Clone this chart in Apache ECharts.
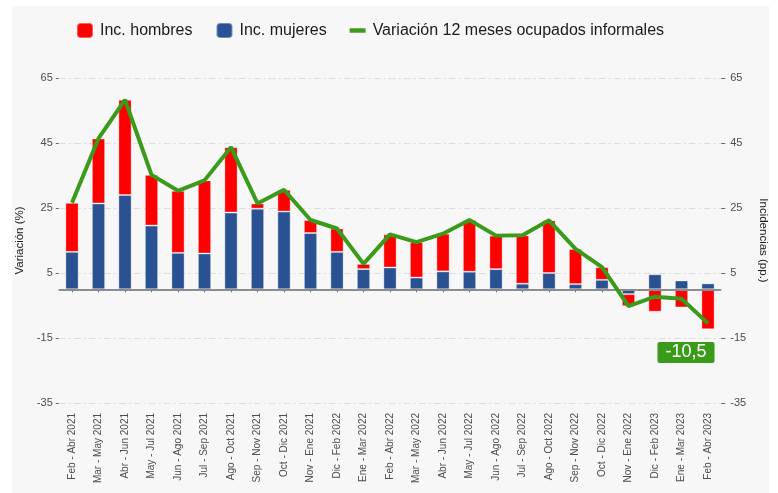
<!DOCTYPE html>
<html>
<head>
<meta charset="utf-8">
<script src="https://cdn.jsdelivr.net/npm/echarts@6/dist/echarts.min.js"></script>
<style>
html,body{margin:0;padding:0;background:#ffffff;width:778px;height:493px;overflow:hidden;}
#chart{position:absolute;left:12px;top:6px;width:757px;height:487px;background:#f7f7f7;}
</style>
</head>
<body>
<div id="chart"></div>
<script>
const categories = ['Feb - Abr 2021','Mar - May 2021','Abr - Jun 2021','May - Jul 2021','Jun - Ago 2021','Jul - Sep 2021','Ago - Oct 2021','Sep - Nov 2021','Oct - Dic 2021','Nov - Ene 2021','Dic - Feb 2022','Ene - Mar 2022','Feb - Abr 2022','Mar - May 2022','Abr - Jun 2022','May - Jul 2022','Jun - Ago 2022','Jul - Sep 2022','Ago - Oct 2022','Sep - Nov 2022','Oct - Dic 2022','Nov - Ene 2022','Dic - Feb 2023','Ene - Mar 2023','Feb - Abr 2023'];
const incMujeres = [11.5, 26.4, 29.0, 19.6, 11.2, 11.0, 23.6, 24.8, 23.9, 17.3, 11.5, 6.2, 6.7, 3.6, 5.5, 5.4, 6.2, 1.7, 5.0, 1.6, 2.9, -1.5, 4.6, 2.7, 1.8];
const incHombres = [15.1, 20.0, 29.3, 15.6, 19.1, 22.5, 20.1, 1.6, 6.7, 4.0, 7.2, 1.6, 10.2, 10.9, 11.6, 15.9, 10.3, 14.9, 16.2, 10.8, 3.9, -3.7, -6.9, -5.6, -12.3];
const variacion = [26.6, 46.4, 58.3, 35.2, 30.3, 33.5, 43.7, 26.4, 30.6, 21.3, 18.7, 7.8, 16.9, 14.5, 17.1, 21.3, 16.5, 16.6, 21.2, 12.4, 6.8, -5.2, -2.3, -2.9, -10.5];
const yTicks = {min: -35, max: 65, interval: 20};

const lastIdx = variacion.length - 1;

const axisTxt = {color: '#4d4d4d', fontSize: 11, fontFamily: 'Liberation Sans, Arial, sans-serif'};
const gridLine = {show: true, lineStyle: {color: '#dedede', width: 1, type: [7, 3, 2, 3]}};

const chart = echarts.init(document.getElementById('chart'), null, {renderer: 'canvas'});
chart.setOption({
  animation: false,
  backgroundColor: '#f7f7f7',
  textStyle: {fontFamily: 'Liberation Sans, Arial, sans-serif'},
  legend: {
    left: 59, top: 11,
    itemWidth: 16, itemHeight: 15, itemGap: 23,
    textStyle: {fontSize: 16, color: '#1a1a1a', fontFamily: 'Liberation Sans, Arial, sans-serif', padding: [0, 0, 0, 2]},
    data: ['Inc. hombres', 'Inc. mujeres', {name: 'Variación 12 meses ocupados informales', icon: 'path://M0,0L18,0L18,5L0,5Z'}]
  },
  grid: {left: 46.75, right: 47.75, top: 72, bottom: 90, containLabel: false, outerBoundsMode: 'none'},
  xAxis: {
    type: 'category', data: categories, offset: 6,
    axisLine: {show: false},
    axisTick: {show: true, length: 3, alignWithLabel: true, lineStyle: {color: '#666'}},
    axisLabel: Object.assign({}, axisTxt, {fontSize: 10, rotate: 90, margin: 4, interval: 0})
  },
  yAxis: [
    Object.assign({type: 'value', name: 'Variación (%)', nameLocation: 'middle', nameGap: 27, nameRotate: 90,
      nameTextStyle: {fontSize: 11.5, color: '#1a1a1a'},
      axisLine: {show: false}, axisTick: {show: true, length: 3, lineStyle: {color: '#666'}},
      axisLabel: Object.assign({}, axisTxt, {margin: 6}), splitLine: gridLine}, yTicks),
    Object.assign({type: 'value', position: 'right', name: 'Incidencias (pp.)', nameLocation: 'middle', nameGap: 36, nameRotate: -90,
      nameTextStyle: {fontSize: 11.5, color: '#1a1a1a'},
      axisLine: {show: false}, axisTick: {show: true, length: 4, lineStyle: {color: '#666'}},
      axisLabel: Object.assign({}, axisTxt, {margin: 9}), splitLine: {show: false}}, yTicks)
  ],
  series: [
    {
      name: 'Inc. mujeres', type: 'bar', stack: 'inc', barWidth: '50%', yAxisIndex: 1,
      itemStyle: {color: '#2a5293', borderColor: 'rgba(255,255,255,0.35)', borderWidth: 1},
      data: incMujeres
    },
    {
      name: 'Inc. hombres', type: 'bar', stack: 'inc', barWidth: '50%', yAxisIndex: 1,
      itemStyle: {color: '#ff0000', borderColor: 'rgba(255,255,255,0.35)', borderWidth: 1},
      data: incHombres
    },
    {
      name: 'Variación 12 meses ocupados informales', type: 'line', yAxisIndex: 0,
      symbol: 'none', symbolKeepAspect: true, z: 5,
      lineStyle: {color: '#3a9a1a', width: 4},
      itemStyle: {color: '#3a9a1a'},
      data: variacion,
      markPoint: {
        silent: true, symbol: 'circle', symbolSize: 1, animation: false,
        itemStyle: {color: 'rgba(0,0,0,0)'},
        data: [{
          coord: [categories[lastIdx], variacion[lastIdx]],
          value: variacion[lastIdx],
          label: {
            show: true, position: 'inside', offset: [-22, 29],
            formatter: p => String(p.value).replace('.', ','),
            color: '#ffffff', fontSize: 18, fontFamily: 'Liberation Sans, Arial, sans-serif',
            backgroundColor: '#3a9a1a', borderRadius: 2, padding: [2, 8, 1, 8]
          }
        }]
      },
      markLine: {
        silent: true, symbol: 'none', animation: false,
        label: {show: false},
        lineStyle: {color: '#8c8c8c', width: 2, type: 'solid'},
        data: [{yAxis: 0}]
      }
    }
  ]
});
</script>
</body>
</html>
